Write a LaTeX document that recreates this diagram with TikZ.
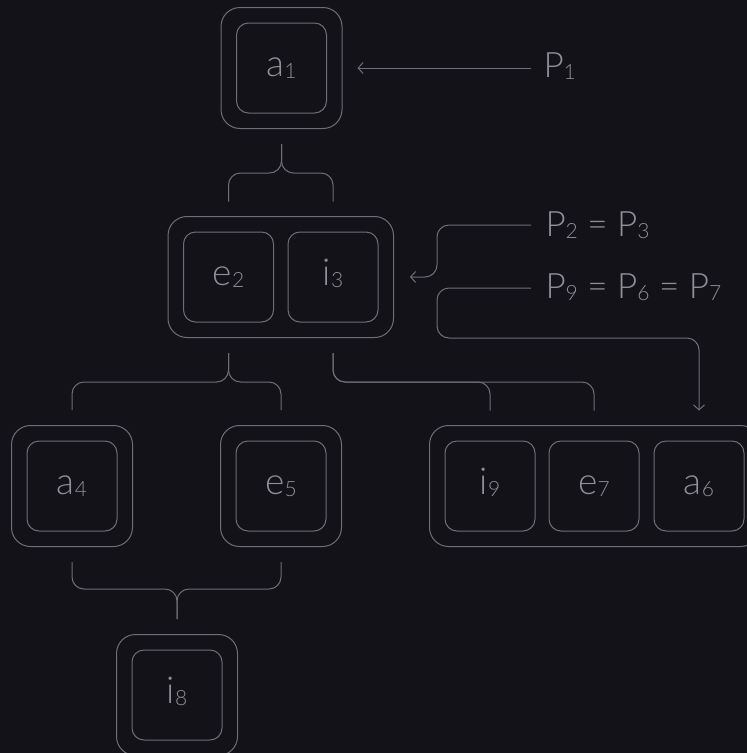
\documentclass[tikz,border=0pt]{standalone}
\usepackage{fontspec}
\setmainfont{Lato}[UprightFont={* Light}]
\usetikzlibrary{arrows.meta,fit,calc}
\definecolor{bg}{HTML}{131218}
\definecolor{ink}{HTML}{6E6E76}
\definecolor{txt}{HTML}{8F8F97}
% small lowered index digit
\newcommand\lowsub[1]{\raisebox{-0.06em}{\fontsize{21}{21}\selectfont #1}}
\newcommand\biglabel{\fontsize{35}{38}\selectfont}
\newcommand\celllabel{\fontsize{37}{40}\selectfont}
\begin{document}
\begin{tikzpicture}[x=1pt,y=-1pt,line width=1pt,
  cell/.style={draw=ink,rounded corners=12pt,minimum width=90pt,minimum height=90pt,
    inner sep=0pt,text=txt,font=\celllabel,text height=20pt,text depth=4pt},
  frame/.style={draw=ink,rounded corners=19pt,inner sep=15pt},
  link/.style={draw=ink,rounded corners=12pt},
  pointer/.style={link,-{Straight Barb[length=5pt,width=11pt]}},
  tag/.style={text=txt,font=\biglabel,anchor=base west,inner sep=0pt}]
\useasboundingbox (0,0) rectangle (747,753);
\fill[bg] (0,0) rectangle (747,753);

% cells
\node[cell] (a1) at (281.5,68) {a\lowsub{1}};
\node[cell] (e2) at (228.5,277) {e\lowsub{2}};
\node[cell] (i3) at (333,277) {i\lowsub{3}};
\node[cell] (a4) at (72,486) {a\lowsub{4}};
\node[cell] (e5) at (281,486) {e\lowsub{5}};
\node[cell] (i9) at (490,486) {i\lowsub{9}};
\node[cell] (e7) at (594,486) {e\lowsub{7}};
\node[cell] (a6) at (699,486) {a\lowsub{6}};
\node[cell] (i8) at (177,695) {i\lowsub{8}};

% frames
\node[frame,fit=(a1)] (a1o) {};
\node[frame,fit=(e2)(i3)] (g23) {};
\node[frame,fit=(a4)] (a4o) {};
\node[frame,fit=(e5)] (e5o) {};
\node[frame,fit=(i9)(e7)(a6)] (g976) {};
\node[frame,fit=(i8)] (i8o) {};

% labels
\node[tag] (p1) at (543,77) {P\lowsub{1}};
\node[tag] (p23) at (545,236) {P\lowsub{2} = P\lowsub{3}};
\node[tag] (p967) at (545,298.5) {P\lowsub{9} = P\lowsub{6} = P\lowsub{7}};

% brace from a1 to the e2/i3 frame
\coordinate (b1s) at ($(a1o.south)+(0,15)$);
\coordinate (b1j) at ($(b1s)+(0,29)$);
\coordinate (b1l) at ($(e2.north)+(0,-30)$);
\coordinate (b1r) at ($(i3.north)+(0,-30)$);
\draw[link] (b1s) -- (b1j) -| (b1l);
\draw[link] (b1s) -- (b1j) -| (b1r);

% brace from e2 to a4 and e5
\coordinate (b2s) at ($(e2.south)+(0,30.5)$);
\coordinate (b2j) at ($(e2.south)+(0,59.5)$);
\coordinate (b2l) at ($(a4o.north)+(0,-15)$);
\coordinate (b2r) at ($(e5o.north)+(0,-15)$);
\draw[link] (b2s) -- (b2j) -| (b2l);
\draw[link] (b2s) -- (b2j) -| (b2r);

% branch from i3 to i9 and e7
\coordinate (b3s) at ($(i3.south)+(0,30.5)$);
\coordinate (b3m) at ($(i9.north)+(0,-30)$);
\coordinate (b3r) at ($(e7.north)+(0,-30)$);
\draw[link] (b3s) -- (b3s |- b2j) -| (b3m);
\draw[link] (b3s) -- (b3s |- b2j) -| (b3r);

% brace from a4 and e5 to i8
\coordinate (b4l) at ($(a4o.south)+(0,15)$);
\coordinate (b4r) at ($(e5o.south)+(0,15)$);
\coordinate (b4e) at ($(i8o.north)+(0,-15)$);
\coordinate (b4j) at ($(b4e)+(0,-30)$);
\draw[link] (b4l) |- (b4j) -- (b4e);
\draw[link] (b4r) |- (b4j) -- (b4e);

% pointers from the labels
\coordinate (p1e) at (531,68);
\draw[pointer] (p1e) -- ($(a1o.east)+(15,0)$);
\coordinate (p23e) at (531,225);
\coordinate (pk) at (437,0);
\draw[pointer] (p23e) -| (pk |- g23.east) -- ($(g23.east)+(16,0)$);
\coordinate (p967e) at (531,288);
\draw[pointer] (p967e) -| (pk |- g23.south) -| ($(a6.north)+(0,-30)$);
\end{tikzpicture}
\end{document}
